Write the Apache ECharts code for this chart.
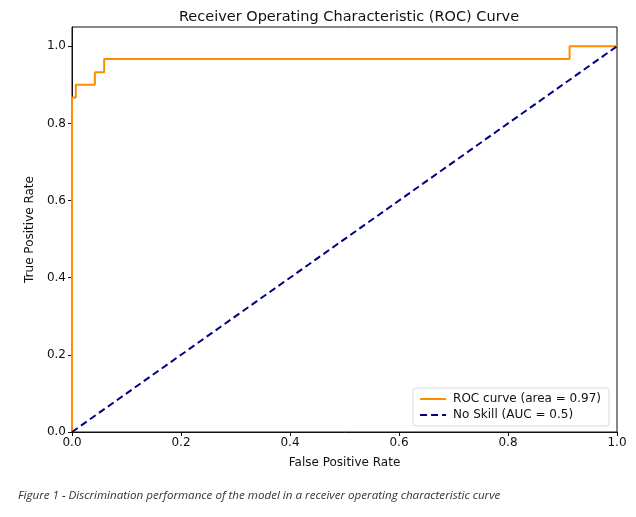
<!DOCTYPE html>
<html><head><meta charset="utf-8">
<script src="https://cdn.jsdelivr.net/npm/echarts@6/dist/echarts.min.js"></script>
<style>html,body{margin:0;padding:0;background:#fff}#c{width:636px;height:517px}</style>
</head><body><div id="c"></div>
<script>
const fpr = [0, 0, 0.007, 0.007, 0.042, 0.042, 0.059, 0.059, 0.913, 0.913, 1];
const tpr = [0, 0.867, 0.867, 0.9, 0.9, 0.933, 0.933, 0.967, 0.967, 1, 1];
const skillX = [0, 1];
const skillY = [0, 1];
const ticks = [0, 0.2, 0.4, 0.6, 0.8, 1.0];
const titleText = 'Receiver Operating Characteristic (ROC) Curve';
const captionText = 'Figure 1 - Discrimination performance of the model in a receiver operating characteristic curve';
const rocName = 'ROC curve (area = 0.97)';
const skillName = 'No Skill (AUC = 0.5)';

const F = 'DejaVu Sans';
const chart = echarts.init(document.getElementById('c'));
chart.setOption({
  animation: false,
  title: { text: titleText, left: 344, textAlign: 'center', top: 5,
    textStyle: { fontFamily: F, fontSize: 14.5, fontWeight: 'normal', color: '#111' } },
  grid: { left: 72, right: 19, top: 27, bottom: 85, show: true, borderColor: '#111', borderWidth: 1 },
  legend: {
    right: 27, bottom: 91, orient: 'vertical', itemWidth: 26, itemHeight: 12, itemGap: 4,
    borderColor: '#d8d8d8', borderWidth: 1, borderRadius: 3, padding: [5, 8, 5, 6],
    textStyle: { fontFamily: F, fontSize: 12, color: '#111', padding: [0, 0, 0, 2] },
    itemStyle: { opacity: 0 },
    data: [rocName, skillName]
  },
  xAxis: {
    type: 'value', min: 0, max: 1, interval: 0.2,
    name: 'False Positive Rate', nameLocation: 'middle', nameGap: 25,
    nameTextStyle: { fontFamily: F, fontSize: 12, color: '#111' },
    axisLine: { show: true, lineStyle: { color: '#111' } },
    axisTick: { show: true, length: 4, lineStyle: { color: '#111' } },
    axisLabel: { fontFamily: F, fontSize: 12, color: '#111', margin: 5, formatter: v => v.toFixed(1) },
    splitLine: { show: false }
  },
  yAxis: {
    type: 'value', min: 0, max: 1.05,
    name: 'True Positive Rate', nameLocation: 'middle', nameGap: 30, nameRotate: 90,
    nameTextStyle: { fontFamily: F, fontSize: 12, color: '#111' },
    axisLine: { show: true, lineStyle: { color: '#111' } },
    axisTick: { show: true, length: 4, customValues: ticks, lineStyle: { color: '#111' } },
    axisLabel: { fontFamily: F, fontSize: 12, color: '#111', margin: 6, customValues: ticks, formatter: v => v.toFixed(1) },
    splitLine: { show: false }
  },
  series: [
    { name: rocName, type: 'line', data: fpr.map((x, i) => [x, tpr[i]]), symbol: 'none',
      lineStyle: { color: '#ff8c00', width: 2 }, itemStyle: { color: '#ff8c00' } },
    { name: skillName, type: 'line', data: skillX.map((x, i) => [x, skillY[i]]), symbol: 'none',
      lineStyle: { color: '#000080', width: 2, type: [7, 4] }, itemStyle: { color: '#000080' } }
  ],
  graphic: [{ type: 'text', left: 18, top: 490,
    style: { text: captionText, fontFamily: 'Open Sans', fontStyle: 'italic', fontSize: 11.6, fill: '#333' } }]
});
</script></body></html>
